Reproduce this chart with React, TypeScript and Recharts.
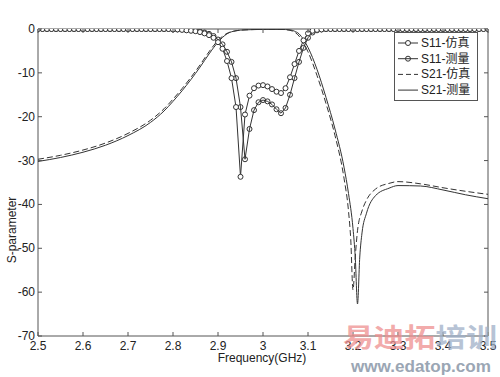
import React from 'react'
import {
  LineChart,
  Line,
  XAxis,
  YAxis,
  ReferenceArea,
} from 'recharts'

// plot box (px) - matches the MATLAB-style axes of the reference
const PLOT_LEFT = 38
const PLOT_RIGHT = 488
const PLOT_TOP = 29
const PLOT_BOTTOM = 336

const LINE_COLOR = '#333333'
const AXIS_COLOR = '#555555'
const FONT = '"Liberation Sans", Arial, "Noto Sans CJK SC", sans-serif'

const X_TICKS = [2.5, 2.6, 2.7, 2.8, 2.9, 3.0, 3.1, 3.2, 3.3, 3.4, 3.5]
const Y_TICKS = [0, -10, -20, -30, -40, -50, -60, -70]

// S11 sampled every 10 MHz
const s11Freq = [
  2.5, 2.51, 2.52, 2.53, 2.54, 2.55, 2.56, 2.57, 2.58, 2.59,
  2.6, 2.61, 2.62, 2.63, 2.64, 2.65, 2.66, 2.67, 2.68, 2.69,
  2.7, 2.71, 2.72, 2.73, 2.74, 2.75, 2.76, 2.77, 2.78, 2.79,
  2.8, 2.81, 2.82, 2.83, 2.84, 2.85, 2.86, 2.87, 2.88, 2.89,
  2.9, 2.91, 2.92, 2.93, 2.94, 2.95, 2.96, 2.97, 2.98, 2.99,
  3.0, 3.01, 3.02, 3.03, 3.04, 3.05, 3.06, 3.07, 3.08, 3.09,
  3.1, 3.11, 3.12, 3.13, 3.14, 3.15, 3.16, 3.17, 3.18, 3.19,
  3.2, 3.21, 3.22, 3.23, 3.24, 3.25, 3.26, 3.27, 3.28, 3.29,
  3.3, 3.31, 3.32, 3.33, 3.34, 3.35, 3.36, 3.37, 3.38, 3.39,
  3.4, 3.41, 3.42, 3.43, 3.44, 3.45, 3.46, 3.47, 3.48, 3.49,
  3.5,
]

const s11Sim = [
  0, 0, 0, 0, 0, 0, 0, 0, 0, 0,
  0, 0, 0, 0, 0, 0, 0, 0, 0, 0,
  0, 0, 0, 0, 0, 0, 0, 0, 0, 0,
  -0.1, -0.1, -0.2, -0.3, -0.4, -0.5, -0.7, -1.0, -1.4, -2.0,
  -3.0, -4.5, -7.3, -11.2, -17.8, -33.7, -19.5, -15.2, -13.5, -12.9,
  -12.8, -13.1, -13.7, -14.3, -14.6, -13.5, -11.0, -8.0, -5.0, -2.6,
  -1.0, -0.4, -0.2, -0.1, 0, 0, 0, 0, 0, 0,
  0, 0, 0, 0, 0, 0, 0, 0, 0, 0,
  0, 0, 0, 0, 0, 0, 0, 0, 0, 0,
  0, 0, 0, 0, 0, 0, 0, 0, 0, 0,
  0,
]

const s11Meas = [
  0, 0, 0, 0, 0, 0, 0, 0, 0, 0,
  0, 0, 0, 0, 0, 0, 0, 0, 0, 0,
  0, 0, 0, 0, 0, 0, 0, 0, 0, 0,
  -0.1, -0.1, -0.1, -0.2, -0.3, -0.4, -0.6, -0.8, -1.1, -1.6,
  -2.4, -3.5, -5.2, -7.5, -11.2, -17.8, -29.7, -22.8, -18.5, -16.7,
  -16.2, -16.5, -17.2, -18.3, -19.2, -18.0, -15.0, -11.2, -7.5, -4.3,
  -2.0, -0.8, -0.3, -0.1, 0, 0, 0, 0, 0, 0,
  0, 0, 0, 0, 0, 0, 0, 0, 0, 0,
  0, 0, 0, 0, 0, 0, 0, 0, 0, 0,
  0, 0, 0, 0, 0, 0, 0, 0, 0, 0,
  0,
]

// S21 - simulated (dashed)
const s21SimFreq = [
  2.5, 2.55, 2.6, 2.65, 2.7, 2.75, 2.78, 2.8, 2.82, 2.84, 2.86, 2.88, 2.9, 2.92, 2.94, 2.96,
  3.0, 3.04, 3.06, 3.07, 3.08, 3.09, 3.1, 3.12, 3.14, 3.16, 3.18, 3.19, 3.195, 3.2,
  3.205, 3.21, 3.22, 3.23, 3.25, 3.28, 3.3, 3.35, 3.4, 3.45, 3.5,
]
const s21Sim = [
  -29.7, -28.8, -27.6, -26.0, -23.8, -20.8, -18.2, -16.0, -13.6, -11.0, -8.2, -5.2, -2.6, -1.0, -0.4, -0.2,
  -0.1, -0.1, -0.3, -0.7, -1.6, -3.2, -5.2, -10.6, -17.0, -24.3, -34.0, -41.5, -48.0, -59.5,
  -52.0, -46.0, -41.5, -39.0, -36.5, -35.2, -34.8, -35.3, -36.2, -37.0, -37.7,
]

// S21 - measured (solid)
const s21MeasFreq = [
  2.5, 2.55, 2.6, 2.65, 2.7, 2.75, 2.78, 2.8, 2.82, 2.84, 2.86, 2.88, 2.9, 2.92, 2.94, 2.96,
  3.0, 3.04, 3.06, 3.07, 3.08, 3.09, 3.1, 3.12, 3.14, 3.16, 3.18, 3.19, 3.2, 3.205,
  3.21, 3.215, 3.22, 3.23, 3.25, 3.28, 3.3, 3.35, 3.4, 3.45, 3.5,
]
const s21Meas = [
  -30.2, -29.3, -28.1, -26.5, -24.3, -21.3, -18.7, -16.5, -14.1, -11.5, -8.7, -5.7, -3.0, -1.1, -0.4, -0.2,
  -0.1, -0.1, -0.2, -0.5, -1.1, -2.4, -4.2, -9.2, -15.6, -22.8, -31.5, -37.5, -45.5, -52.0,
  -62.7, -52.0, -46.5, -42.0, -38.0, -36.3, -35.7, -35.8, -36.7, -37.8, -38.7,
]

const toRows = (freq: number[], vals: number[]) => freq.map((f, i) => ({ f, v: vals[i] }))

const fmt = (v: number) => String(Number(v.toFixed(1)))

const XTick = (props: any) => {
  const { x, payload } = props
  return (
    <g>
      <line x1={x} x2={x} y1={PLOT_BOTTOM} y2={PLOT_BOTTOM - 4} stroke={AXIS_COLOR} />
      <line x1={x} x2={x} y1={PLOT_TOP} y2={PLOT_TOP + 4} stroke={AXIS_COLOR} />
      <text x={x} y={346} textAnchor="middle" dominantBaseline="central" fontSize={12} fill="#222" fontFamily={FONT}>
        {fmt(payload.value)}
      </text>
    </g>
  )
}

const YTick = (props: any) => {
  const { y, payload } = props
  return (
    <g>
      <line x1={PLOT_LEFT} x2={PLOT_LEFT + 4} y1={y} y2={y} stroke={AXIS_COLOR} />
      <line x1={PLOT_RIGHT} x2={PLOT_RIGHT - 4} y1={y} y2={y} stroke={AXIS_COLOR} />
      <text x={35} y={y} textAnchor="end" dominantBaseline="central" fontSize={12} fill="#222" fontFamily={FONT}>
        {payload.value}
      </text>
    </g>
  )
}

const LEGEND_ITEMS = [
  { name: 'S11-仿真', dash: undefined, marker: 'filled' },
  { name: 'S11-测量', dash: undefined, marker: 'open' },
  { name: 'S21-仿真', dash: '5 3', marker: null },
  { name: 'S21-测量', dash: undefined, marker: null },
]

function LegendBox() {
  return (
    <svg width={84} height={69} style={{ position: 'absolute', left: 394, top: 32 }}>
      <rect x={0.5} y={0.5} width={83} height={68} fill="#fff" stroke={AXIS_COLOR} />
      {LEGEND_ITEMS.map((it, i) => {
        const y = 11 + i * 15.7
        return (
          <g key={it.name}>
            <line x1={4} x2={24} y1={y} y2={y} stroke={LINE_COLOR} strokeDasharray={it.dash} />
            {it.marker && (
              <circle cx={14} cy={y} r={2.5} fill={it.marker === 'filled' ? '#fff' : 'none'} stroke={LINE_COLOR} />
            )}
            <text x={27} y={y} dominantBaseline="central" fontSize={12} fill="#222" fontFamily={FONT}>
              {it.name}
            </text>
          </g>
        )
      })}
    </svg>
  )
}

export default function App() {
  return (
    <div style={{ position: 'fixed', left: 0, top: 0, width: 500, height: 377, background: '#fff', fontFamily: FONT }}>
      <LineChart
        width={500}
        height={377}
        margin={{ top: PLOT_TOP, right: 500 - PLOT_RIGHT, bottom: 11, left: 8 }}
      >
        <XAxis
          type="number"
          dataKey="f"
          domain={[2.5, 3.5]}
          ticks={X_TICKS}
          allowDataOverflow
          height={30}
          tickLine={false}
          axisLine={false}
          tick={<XTick />}
          interval={0}
        />
        <YAxis
          type="number"
          domain={[-70, 0]}
          ticks={Y_TICKS}
          allowDataOverflow
          width={30}
          tickLine={false}
          axisLine={false}
          tick={<YTick />}
          interval={0}
        />
        <ReferenceArea x1={2.5} x2={3.5} y1={-70} y2={0} fill="none" stroke={AXIS_COLOR} strokeWidth={1} ifOverflow="visible" />
        <Line
          data={toRows(s21SimFreq, s21Sim)}
          dataKey="v"
          type="monotone"
          stroke={LINE_COLOR}
          strokeWidth={1}
          strokeDasharray="6 3"
          dot={false}
          isAnimationActive={false}
        />
        <Line
          data={toRows(s21MeasFreq, s21Meas)}
          dataKey="v"
          type="monotone"
          stroke={LINE_COLOR}
          strokeWidth={1}
          dot={false}
          isAnimationActive={false}
        />
        <Line
          data={toRows(s11Freq, s11Meas)}
          dataKey="v"
          type="linear"
          stroke={LINE_COLOR}
          strokeWidth={1}
          dot={{ r: 2.5, fill: 'none', stroke: LINE_COLOR, strokeWidth: 1 }}
          isAnimationActive={false}
        />
        <Line
          data={toRows(s11Freq, s11Sim)}
          dataKey="v"
          type="linear"
          stroke={LINE_COLOR}
          strokeWidth={1}
          dot={{ r: 2.5, fill: '#fff', stroke: LINE_COLOR, strokeWidth: 1 }}
          isAnimationActive={false}
        />
      </LineChart>

      <LegendBox />

      {/* axis titles */}
      <div style={{ position: 'absolute', left: 12, top: 230, transform: 'translate(-50%, -50%) rotate(-90deg)', fontSize: 12, color: '#222', whiteSpace: 'nowrap' }}>
        S-parameter
      </div>
      <div style={{ position: 'absolute', left: 262, top: 358, transform: 'translate(-50%, -50%)', fontSize: 12, color: '#222', whiteSpace: 'nowrap' }}>
        Frequency(GHz)
      </div>

      {/* site watermark */}
      <svg width={500} height={377} style={{ position: 'absolute', left: 0, top: 0, pointerEvents: 'none' }}>
        <text x={343} y={347} fontSize={26} fontWeight="bold" textLength={154} lengthAdjust="spacingAndGlyphs" fontFamily='"Noto Sans CJK SC", sans-serif' opacity={0.75}>
          <tspan fill="#ee8f8f">易迪拓</tspan>
          <tspan fill="#9fb0c8">培训</tspan>
        </text>
        <text x={351} y={372} fontSize={17} fontWeight="bold" textLength={140} lengthAdjust="spacingAndGlyphs" fill="#8a97a8" fontFamily='"Liberation Sans", Arial, sans-serif' opacity={0.85}>
          www.edatop.com
        </text>
      </svg>
    </div>
  )
}
